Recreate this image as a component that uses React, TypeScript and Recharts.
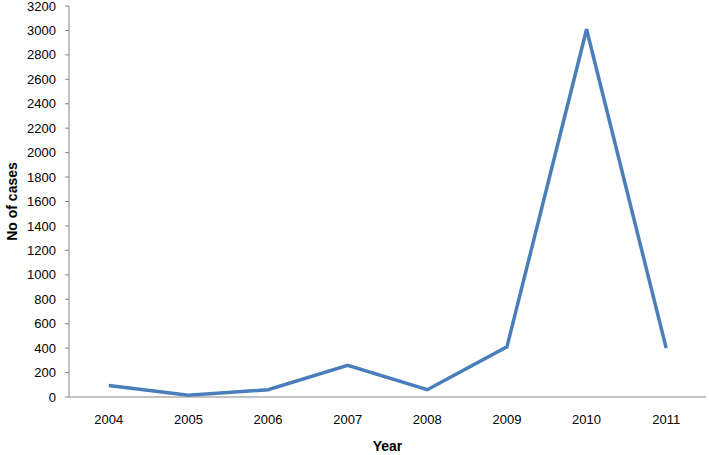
import React from 'react';
import { LineChart, Line, XAxis, YAxis } from 'recharts';

const years = ['2004', '2005', '2006', '2007', '2008', '2009', '2010', '2011'];
const cases = [95, 15, 60, 260, 60, 410, 3010, 400];
const yTicks = [0, 200, 400, 600, 800, 1000, 1200, 1400, 1600, 1800, 2000, 2200, 2400, 2600, 2800, 3000, 3200];
const edgeTicks = [0, 1, 2, 3, 4, 5, 6, 7, 8];

const data = years.map((y, i) => ({ year: y, pos: i + 0.5, cases: cases[i] }));

const AXIS = '#868686';
const FONT = '"Liberation Sans", Arial, sans-serif';

export default function App() {
  return (
    <div style={{ position: 'absolute', left: 0, top: 0 }}>
      <LineChart width={709} height={455} data={data} margin={{ top: 6, right: 3, bottom: 0, left: 0 }}>
        <XAxis
          xAxisId="a_edges"
          dataKey="pos"
          type="number"
          domain={[0, 8]}
          ticks={edgeTicks}
          allowDataOverflow
          height={1}
          tick={false}
          tickSize={5}
          axisLine={{ stroke: AXIS }}
          tickLine={{ stroke: AXIS }}
        />
        <XAxis
          xAxisId="b_cat"
          dataKey="year"
          type="category"
          scale="band"
          height={57}
          axisLine={false}
          tickLine={false}
          tickSize={0}
          tickMargin={17}
          tick={{ fill: '#000', fontSize: 13, fontFamily: FONT }}
          interval={0}
          label={{ value: 'Year', position: 'insideBottom', offset: 4, style: { fontWeight: 'bold', fontSize: 14, fill: '#000', fontFamily: FONT } }}
        />
        <YAxis
          domain={[0, 3200]}
          ticks={yTicks}
          width={69}
          interval={0}
          tickSize={4}
          tickMargin={9}
          axisLine={{ stroke: AXIS }}
          tickLine={{ stroke: AXIS }}
          tick={{ fill: '#000', fontSize: 13, fontFamily: FONT }}
          label={{ value: 'No of cases', angle: -90, position: 'insideLeft', offset: 12, style: { textAnchor: 'middle', fontWeight: 'bold', fontSize: 14, fill: '#000', fontFamily: FONT } }}
        />
        <Line
          xAxisId="a_edges"
          type="linear"
          dataKey="cases"
          stroke="#4a7ebb"
          strokeWidth={3.5}
          dot={false}
          isAnimationActive={false}
        />
      </LineChart>
    </div>
  );
}
